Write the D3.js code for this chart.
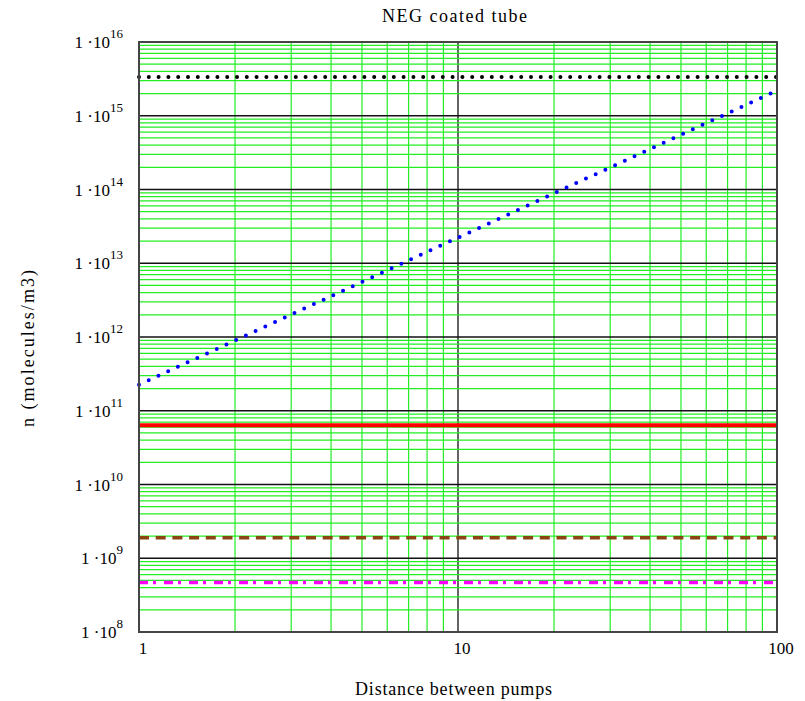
<!DOCTYPE html>
<html>
<head>
<meta charset="utf-8">
<script src="https://cdn.jsdelivr.net/npm/d3@7"></script>
<style>
  body { margin: 0; background: #fff; }
  text { font-family: "Liberation Serif", "Times New Roman", serif; fill: #000; }
</style>
</head>
<body>
<svg width="805" height="701"></svg>
<script>
const width = 805;
const height = 701;
const margin = { top: 42, right: 28, bottom: 69, left: 139 };

// chart values
const distance = [1, 100];
const nBackground = [3.35e15, 3.35e15];
const nUncoated = [2.25e11, 2.2e15];
const nRed = [6.35e10, 6.35e10];
const nBrown = [1.9e9, 1.9e9];
const nMagenta = [4.7e8, 4.7e8];

const xTicks = [1, 10, 100];
const yExponents = [8, 9, 10, 11, 12, 13, 14, 15, 16];

const series = [
  { values: nBackground, color: "#000", width: 4, dash: "0 9.8", cap: "round" },
  { values: nUncoated, color: "#0000ff", width: 4, dash: "0 10.7", cap: "round" },
  { values: nRed, color: "#ff0000", width: 4, dash: null, cap: "butt" },
  { values: nBrown, color: "#8b4513", width: 3.5, dash: "10 6.7", cap: "butt" },
  { values: nMagenta, color: "#ff00ff", width: 3.5, dash: "9 5 3 8", cap: "butt" }
];

const svg = d3.select("svg");

const x = d3.scaleLog()
  .domain([1, 100])
  .range([margin.left, width - margin.right]);

const y = d3.scaleLog()
  .domain([1e8, 1e16])
  .range([height - margin.bottom, margin.top]);

const isDecade = v => Math.abs(Math.log10(v) - Math.round(Math.log10(v))) < 1e-9;

// grid
const grid = svg.append("g");

grid.selectAll(".vx")
  .data(x.ticks())
  .enter()
  .append("line")
  .attr("x1", d => x(d))
  .attr("x2", d => x(d))
  .attr("y1", margin.top)
  .attr("y2", height - margin.bottom)
  .attr("stroke", d => isDecade(d) ? "#111" : "#22ee22")
  .attr("stroke-width", d => isDecade(d) ? 1.3 : 1.2);

grid.selectAll(".hy")
  .data(y.ticks())
  .enter()
  .append("line")
  .attr("x1", margin.left)
  .attr("x2", width - margin.right)
  .attr("y1", d => y(d))
  .attr("y2", d => y(d))
  .attr("stroke", d => isDecade(d) ? "#111" : "#22ee22")
  .attr("stroke-width", d => isDecade(d) ? 1.3 : 1.2);

// series
const line = d3.line()
  .x((d, i) => x(distance[i]))
  .y(d => y(d));

series.forEach(s => {
  svg.append("path")
    .datum(s.values)
    .attr("d", line)
    .attr("fill", "none")
    .attr("stroke", s.color)
    .attr("stroke-width", s.width)
    .attr("stroke-linecap", s.cap)
    .attr("stroke-dasharray", s.dash);
});

// frame
svg.append("rect")
  .attr("x", margin.left)
  .attr("y", margin.top)
  .attr("width", width - margin.left - margin.right)
  .attr("height", height - margin.top - margin.bottom)
  .attr("fill", "none")
  .attr("stroke", "#444")
  .attr("stroke-width", 2);

// x tick labels
svg.selectAll(".xl")
  .data(xTicks)
  .enter()
  .append("text")
  .attr("x", d => x(d) + 4)
  .attr("y", height - margin.bottom + 22)
  .attr("text-anchor", "middle")
  .style("font-size", "17px")
  .text(d => d);

// y tick labels: 1·10^n
const yl = svg.selectAll(".yl")
  .data(yExponents)
  .enter()
  .append("text")
  .attr("x", margin.left - 16)
  .attr("y", d => y(Math.pow(10, d)) + 6)
  .attr("text-anchor", "end")
  .style("font-size", "17px");

yl.append("tspan").text("1 ·10");
yl.append("tspan")
  .attr("dy", -10)
  .style("font-size", "13px")
  .text(d => d);

// titles (Mathcad renders them wide, so stretch to the measured length)
svg.append("text")
  .attr("x", 382)
  .attr("y", 22)
  .attr("textLength", 145)
  .attr("lengthAdjust", "spacing")
  .style("font-size", "18px")
  .text("NEG coated tube");

svg.append("text")
  .attr("x", 355)
  .attr("y", 695)
  .attr("textLength", 197)
  .attr("lengthAdjust", "spacing")
  .style("font-size", "18px")
  .text("Distance between pumps");

svg.append("text")
  .attr("transform", "translate(34,427) rotate(-90)")
  .attr("textLength", 157)
  .attr("lengthAdjust", "spacing")
  .style("font-size", "18px")
  .text("n (molecules/m3)");
</script>
</body>
</html>
